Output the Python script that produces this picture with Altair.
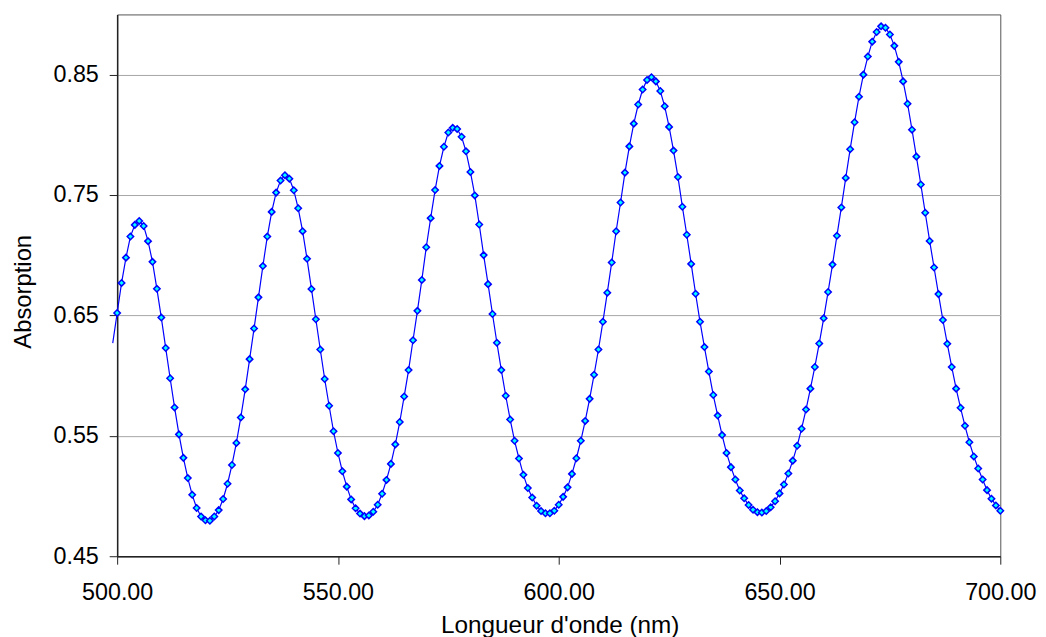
import altair as alt
import pandas as pd

# Wavelength grid (nm); 499 lies just outside the axis and only the line reaches it
wavelength = list(range(499, 701))

absorption = [
    0.627,
    # 500-509
    0.652, 0.677, 0.698, 0.7155, 0.7252, 0.7285, 0.7243, 0.7117, 0.6945, 0.6721,
    # 510-519
    0.6482, 0.6229, 0.5978, 0.5736, 0.5512, 0.5317, 0.5149, 0.5010, 0.4901, 0.4830,
    # 520-529
    0.4798, 0.4795, 0.4830, 0.4883, 0.4975, 0.5102, 0.5258, 0.5441, 0.5653, 0.5886,
    # 530-539
    0.6137, 0.6391, 0.6650, 0.6910, 0.7155, 0.7360, 0.7520, 0.7620, 0.7665, 0.7636,
    # 540-549
    0.7540, 0.7390, 0.7200, 0.6970, 0.6720, 0.6468, 0.6217, 0.5972, 0.5750, 0.5538,
    # 550-559
    0.5358, 0.5205, 0.5078, 0.4972, 0.4898, 0.4854, 0.4833, 0.4839, 0.4869, 0.4928,
    # 560-569
    0.5019, 0.5134, 0.5267, 0.5429, 0.5615, 0.5827, 0.6046, 0.6294, 0.6538, 0.6795,
    # 570-579
    0.7066, 0.7308, 0.7541, 0.7742, 0.7901, 0.8019, 0.8058, 0.8049, 0.7984, 0.7863,
    # 580-589
    0.7692, 0.7497, 0.7255, 0.7001, 0.6760, 0.6512, 0.6273, 0.6046, 0.5833, 0.5636,
    # 590-599
    0.5459, 0.5311, 0.5176, 0.5066, 0.4987, 0.4919, 0.4875, 0.4857, 0.4857, 0.4878,
    # 600-609
    0.4928, 0.4993, 0.5072, 0.5184, 0.5314, 0.5459, 0.5624, 0.5807, 0.6007, 0.6217,
    # 610-619
    0.6447, 0.6689, 0.6940, 0.7199, 0.7438, 0.7686, 0.7904, 0.8093, 0.8252, 0.8376,
    # 620-629
    0.8456, 0.8479, 0.8444, 0.8364, 0.8237, 0.8066, 0.7869, 0.7650, 0.7403, 0.7170,
    # 630-639
    0.6928, 0.6680, 0.6447, 0.6237, 0.6034, 0.5839, 0.5668, 0.5506, 0.5358, 0.5240,
    # 640-649
    0.5137, 0.5046, 0.4981, 0.4925, 0.4886, 0.4866, 0.4863, 0.4875, 0.4907, 0.4957,
    # 650-659
    0.5022, 0.5096, 0.5187, 0.5294, 0.5417, 0.5559, 0.5718, 0.5892, 0.6072, 0.6267,
    # 660-669
    0.6476, 0.6695, 0.6922, 0.7161, 0.7397, 0.7642, 0.7881, 0.8105, 0.8317, 0.8500,
    # 670-679
    0.8650, 0.8774, 0.8854, 0.8901, 0.8889, 0.8833, 0.8739, 0.8606, 0.8444, 0.8258,
    # 680-689
    0.8043, 0.7819, 0.7588, 0.7353, 0.7119, 0.6898, 0.6677, 0.6462, 0.6264, 0.6072,
    # 690-699
    0.5892, 0.5733, 0.5583, 0.5447, 0.5329, 0.5229, 0.5137, 0.5049, 0.4978, 0.4922,
    # 700
    0.4878,
]

x_ticks = [500, 550, 600, 650, 700]
y_ticks = [0.45, 0.55, 0.65, 0.75, 0.85]

df = pd.DataFrame({"nm": wavelength, "A": absorption})

FONT = "Liberation Sans"

x_enc = alt.X(
    "nm:Q",
    scale=alt.Scale(domain=[500, 700], nice=False, zero=False),
    axis=alt.Axis(
        values=x_ticks,
        format=".2f",
        title="Longueur d'onde (nm)",
        grid=False,
        labelFlush=False,
        labelPadding=17,
        titleX=446,
        titleY=77,
        titleAlign="center",
        titleBaseline="alphabetic",
        titleFontSize=24.5,
    ),
)
y_enc = alt.Y(
    "A:Q",
    scale=alt.Scale(domain=[0.45, 0.9], nice=False, zero=False),
    axis=alt.Axis(
        values=y_ticks,
        format=".2f",
        title="Absorption",
        grid=True,
        gridColor="#a6a6a6",
        gridWidth=1,
        labelFlush=False,
        labelPadding=11,
        titleAngle=270,
        titleX=-87,
        titleY=279,
        titleAlign="center",
        titleBaseline="alphabetic",
    ),
)

line = alt.Chart(df).mark_line(color="#0000ff", strokeWidth=1.2, clip=False).encode(
    x=x_enc, y=y_enc
)

points = (
    alt.Chart(df)
    .transform_filter("datum.nm >= 500")
    .mark_point(
        shape="diamond",
        filled=True,
        fill="#00ffff",
        stroke="#0000ff",
        strokeWidth=1.5,
        size=42,
        opacity=1,
    )
    .encode(x=x_enc, y=y_enc)
)

chart = (
    alt.layer(line, points)
    .properties(
        width=890,
        height=546,
        padding={"left": 110, "top": 4, "right": 38, "bottom": 90},
        autosize=alt.AutoSizeParams(type="none"),
        background="white",
    )
    .configure_view(stroke="#555555", strokeWidth=1)
    .configure_axis(
        domainColor="#222222",
        domainWidth=1.5,
        tickColor="#222222",
        tickSize=8,
        tickWidth=1,
        labelFont=FONT,
        labelFontSize=23.5,
        labelColor="#000000",
        titleFont=FONT,
        titleFontSize=24,
        titleFontWeight="normal",
        titleColor="#000000",
    )
)

chart.save("out.html", embed_options={"renderer": "svg", "actions": False})
